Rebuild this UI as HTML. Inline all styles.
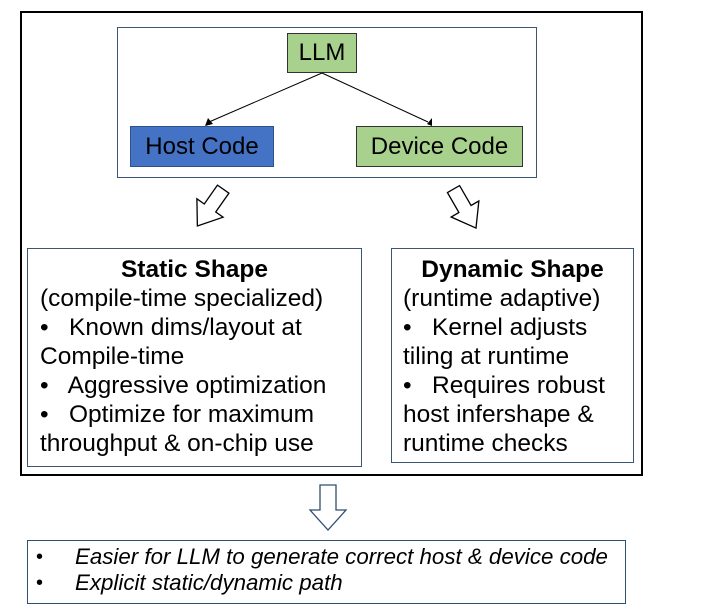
<!DOCTYPE html>
<html><head><meta charset="utf-8"><style>
html,body{margin:0;padding:0;background:#fff;}
body{width:718px;height:610px;position:relative;overflow:hidden;font-family:"Liberation Sans",sans-serif;color:#000;}
.a{position:absolute;box-sizing:border-box;}
.t{position:absolute;white-space:nowrap;font-size:24.5px;line-height:29px;}
</style></head><body>
<div class="a" style="left:20px;top:11px;width:623px;height:465px;border:2px solid #000;"></div>
<div class="a" style="left:117px;top:27px;width:420px;height:151px;border:1.5px solid #3d5575;"></div>
<div class="a" style="left:287px;top:33px;width:70px;height:40px;background:#a9d18e;border:1px solid #333;font-size:24px;line-height:38px;text-align:center;">LLM</div>
<div class="a" style="left:130px;top:126px;width:144px;height:41px;background:#4472c4;border:1px solid #2f528f;font-size:24px;line-height:39px;text-align:center;">Host Code</div>
<div class="a" style="left:356px;top:126px;width:167px;height:41px;background:#a9d18e;border:1px solid #333;font-size:24px;line-height:39px;text-align:center;">Device Code</div>
<svg class="a" style="left:0;top:0" width="718" height="610">
<line x1="322" y1="73" x2="209" y2="122" stroke="#000" stroke-width="1"/>
<polygon points="205,126 208,118 213,124" fill="#000"/>
<line x1="322" y1="73" x2="428" y2="122" stroke="#000" stroke-width="1"/>
<polygon points="432,126 427,124 432,118" fill="#000"/>
<g transform="translate(210,208) rotate(35)">
<polygon points="-7,-23 7,-23 7,0 16,0 0,22 -16,0 -7,0" fill="#fff" stroke="#000" stroke-width="1.3"/>
</g>
<g transform="translate(465,209) rotate(-30)">
<polygon points="-7,-23 7,-23 7,0 16,0 0,22 -16,0 -7,0" fill="#fff" stroke="#000" stroke-width="1.3"/>
</g>
<polygon points="320,485 336,485 336,510 346,510 328,530 310,510 320,510" fill="#fff" stroke="#2f4f6f" stroke-width="1.3"/>
</svg>
<div class="a" style="left:27px;top:248px;width:335px;height:219px;border:1.5px solid #3d5575;"></div>
<div class="a" style="left:391px;top:248px;width:243px;height:215px;border:1.5px solid #3d5575;"></div>
<div class="t" style="left:27px;width:335px;text-align:center;top:255px;font-weight:bold;">Static Shape</div>
<div class="t" style="left:40px;top:284px;">(compile-time specialized)</div>
<div class="t" style="left:40px;top:313px;">•&nbsp;&nbsp; Known dims/layout at</div>
<div class="t" style="left:40px;top:342px;">Compile-time</div>
<div class="t" style="left:40px;top:371px;">•&nbsp;&nbsp; Aggressive optimization</div>
<div class="t" style="left:40px;top:400px;">•&nbsp;&nbsp; Optimize for maximum</div>
<div class="t" style="left:40px;top:429px;">throughput &amp; on-chip use</div>
<div class="t" style="left:391px;width:243px;text-align:center;top:255px;font-weight:bold;">Dynamic Shape</div>
<div class="t" style="left:403px;top:284px;">(runtime adaptive)</div>
<div class="t" style="left:403px;top:313px;">•&nbsp;&nbsp; Kernel adjusts</div>
<div class="t" style="left:403px;top:342px;">tiling at runtime</div>
<div class="t" style="left:403px;top:371px;">•&nbsp;&nbsp; Requires robust</div>
<div class="t" style="left:403px;top:400px;">host infershape &amp;</div>
<div class="t" style="left:403px;top:429px;">runtime checks</div>
<div class="a" style="left:27px;top:540px;width:599px;height:64px;border:1.5px solid #2f4f6f;"></div>
<div class="t" style="left:36px;top:544px;font-size:20px;line-height:26px;">•</div>
<div class="t" style="left:75px;top:544px;font-size:22.3px;line-height:26px;font-style:italic;">Easier for LLM to generate correct host &amp; device code</div>
<div class="t" style="left:36px;top:570px;font-size:20px;line-height:26px;">•</div>
<div class="t" style="left:75px;top:570px;font-size:22.3px;line-height:26px;font-style:italic;">Explicit static/dynamic path</div>
</body></html>
